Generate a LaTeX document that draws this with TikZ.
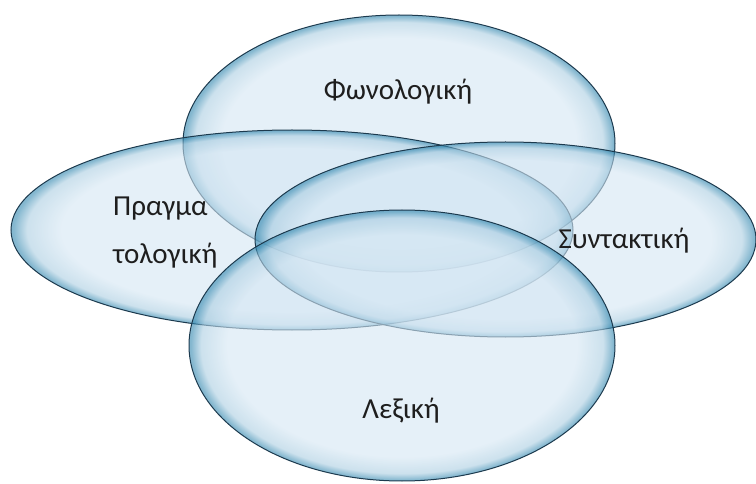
\documentclass[tikz,border=0pt]{standalone}
\usepackage{fontspec}
\setmainfont{Carlito}
\usepackage{xcolor}
\definecolor{bubin}{RGB}{212,230,243}
\definecolor{bubmid}{RGB}{170,205,225}
\definecolor{bubrim}{RGB}{50,135,175}
\definecolor{bubline}{RGB}{28,58,78}
\definecolor{labeltext}{RGB}{30,30,30}
\pgfdeclareradialshading{bubble}{\pgfpoint{0bp}{0bp}}{%
  color(0bp)=(bubin); color(20.5bp)=(bubin); color(23.6bp)=(bubmid);
  color(24.8bp)=(bubrim); color(25bp)=(bubrim); color(50bp)=(bubrim)}

\begin{document}
\begin{tikzpicture}[x=1pt, y=-1pt,
    lbl/.style={font=\fontsize{29}{34}\selectfont, text=labeltext, inner sep=0pt}]
    % canvas
    \useasboundingbox (0,0) rectangle (756,484);
    % bubbles: Fonologiki, Pragmatologiki, Syntaktiki, Lexiki
    \foreach \cx/\cy/\rx/\ry in {399/143.5/216/128.5, 292/230/281/100,
                                 505.5/239.5/250.5/97.5, 402/345.5/213/135.5} {
      \shade[shading=bubble, fill opacity=0.6]
        (\cx,\cy) ellipse [x radius=\rx pt, y radius=\ry pt];
      \draw[bubline, line width=1pt]
        (\cx,\cy) ellipse [x radius=\rx pt, y radius=\ry pt];
    }
    % labels
    \node[lbl, anchor=base] (phon) at (398,100) {Φωνολογική};
    \node[lbl, anchor=base west] (prag1) at (113,216) {Πραγμα};
    \node[lbl, anchor=base west] (prag2) at (113,263) {τολογική};
    \node[lbl, anchor=base] (synt) at (624,249) {Συντακτική};
    \node[lbl, anchor=base] (lex) at (401,418) {Λεξική};
\end{tikzpicture}
\end{document}
